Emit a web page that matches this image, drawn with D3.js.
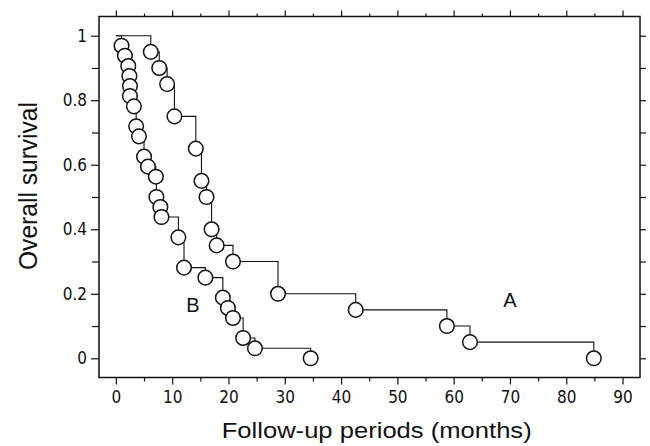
<!DOCTYPE html>
<html>
<head>
<meta charset="utf-8">
<script src="https://cdn.jsdelivr.net/npm/d3@7"></script>
<style>
  body { margin: 0; background: #fff; }
  svg { display: block; }
</style>
</head>
<body>
<div id="chart"></div>
<script>
"use strict"

// survival curves: [months, survival]
const groupA = [[6.2,0.95],[7.7,0.90],[9.1,0.85],[10.4,0.75],[14.2,0.65],[15.2,0.55],[16.1,0.50],
  [17.0,0.40],[17.9,0.35],[20.8,0.30],[28.8,0.20],[42.6,0.15],[58.8,0.10],[62.9,0.05],[84.9,0]];
const groupB = [[1.0,0.969],[1.6,0.938],[2.2,0.906],[2.4,0.875],[2.5,0.844],[2.5,0.813],[3.2,0.781],
  [3.6,0.719],[4.1,0.688],[5.0,0.625],[5.7,0.594],[7.1,0.563],[7.2,0.5],[7.9,0.469],[8.1,0.438],
  [11.1,0.375],[12.1,0.281],[15.9,0.25],[19.0,0.188],[19.9,0.156],[20.8,0.125],[22.6,0.063],
  [24.7,0.031],[34.6,0]];
const curveLabels = [["A", 70, 0.16], ["B", 13.7, 0.145]];

const xTicks = [0,10,20,30,40,50,60,70,80,90];
const xMinor = [5,15,25,35,45,55,65,75,85];
const yTicks = [0,0.2,0.4,0.6,0.8,1];
const yTickLabels = ["0","0.2","0.4","0.6","0.8","1"];
const yMinor = [0.1,0.3,0.5,0.7,0.9];

const margin = {top: 16.5, right: 10, bottom: 68.5, left: 99},
  width = 650 - margin.left - margin.right,
  height = 446 - margin.top - margin.bottom;

const svg = d3.select("#chart")
.append("svg")
  .attr("width", 650)
  .attr("height", 446)
.append("g")
  .attr("transform", "translate(" + margin.left + "," + margin.top + ")");

const x = d3.scaleLinear().domain([-3, 93.1]).range([0, width]);
const y = d3.scaleLinear().domain([-0.0595, 1.0595]).range([height, 0]);

const tickFont = "'Liberation Sans Narrow', 'DejaVu Sans Condensed', sans-serif";

// axes: major + minor ticks on every side, the frame drawn separately
function styleAxis(g) {
  g.select(".domain").remove();
  g.selectAll(".tick line").attr("stroke", "#111").attr("stroke-width", 1.2);
  g.selectAll("text").attr("fill", "#111").style("font-family", tickFont).style("font-size", "17px");
}

svg.append("g").attr("transform", "translate(0," + height + ")")
  .call(d3.axisBottom(x).tickValues(xTicks).tickSize(7).tickPadding(6).tickFormat(d3.format("d")))
  .call(styleAxis);
svg.append("g").attr("transform", "translate(0," + height + ")")
  .call(d3.axisBottom(x).tickValues(xMinor).tickSize(4).tickFormat(""))
  .call(styleAxis);
svg.append("g")
  .call(d3.axisTop(x).tickValues(xTicks).tickSize(6).tickFormat(""))
  .call(styleAxis);
svg.append("g")
  .call(d3.axisTop(x).tickValues(xMinor).tickSize(3).tickFormat(""))
  .call(styleAxis);
svg.append("g")
  .call(d3.axisLeft(y).tickValues(yTicks).tickSize(8).tickPadding(4)
    .tickFormat((d, i) => yTickLabels[i]))
  .call(styleAxis);
svg.append("g")
  .call(d3.axisLeft(y).tickValues(yMinor).tickSize(7).tickFormat(""))
  .call(styleAxis);
svg.append("g").attr("transform", "translate(" + width + ",0)")
  .call(d3.axisRight(y).tickValues(yTicks.concat(yMinor)).tickSize(6).tickFormat(""))
  .call(styleAxis);

svg.append("rect")
  .attr("width", width)
  .attr("height", height)
  .attr("fill", "none")
  .attr("stroke", "#111")
  .attr("stroke-width", 1.5);

// step lines, then circles on top
const step = d3.line()
  .x(d => x(d[0]))
  .y(d => y(d[1]))
  .curve(d3.curveStepAfter);

[groupA, groupB].forEach(function(g) {
  svg.append("path")
    .datum([[0, 1]].concat(g))
    .attr("d", step)
    .attr("fill", "none")
    .attr("stroke", "#111")
    .attr("stroke-width", 1.1);
});

[groupA, groupB].forEach(function(g) {
  svg.selectAll(null)
    .data(g)
    .enter()
    .append("circle")
      .attr("cx", d => x(d[0]))
      .attr("cy", d => y(d[1]))
      .attr("r", 7.3)
      .attr("fill", "#fff")
      .attr("stroke", "#111")
      .attr("stroke-width", 1.5);
});

svg.selectAll(null)
  .data(curveLabels)
  .enter()
  .append("text")
    .attr("x", d => x(d[1]))
    .attr("y", d => y(d[2]))
    .attr("text-anchor", "middle")
    .style("font-family", "'Liberation Sans', Arial, sans-serif")
    .style("font-size", "20px")
    .attr("fill", "#111")
    .text(d => d[0]);

// axis titles
svg.append("text")
  .attr("x", 376.7 - margin.left)
  .attr("y", 438 - margin.top)
  .attr("text-anchor", "middle")
  .attr("textLength", 310)
  .attr("lengthAdjust", "spacingAndGlyphs")
  .style("font-family", "'Liberation Sans', Arial, sans-serif")
  .style("font-size", "22px")
  .attr("fill", "#111")
  .text("Follow-up periods (months)");

svg.append("text")
  .attr("transform", "translate(" + (37 - margin.left) + "," + (186 - margin.top) + ") rotate(-90)")
  .attr("text-anchor", "middle")
  .attr("textLength", 168)
  .attr("lengthAdjust", "spacingAndGlyphs")
  .style("font-family", "'Liberation Sans', Arial, sans-serif")
  .style("font-size", "25px")
  .attr("fill", "#111")
  .text("Overall survival");
</script>
</body>
</html>
